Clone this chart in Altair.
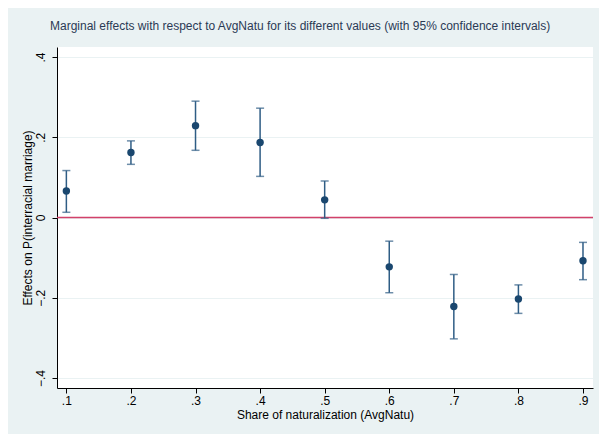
import altair as alt
import pandas as pd

avgnatu = [0.1, 0.2, 0.3, 0.4, 0.5, 0.6, 0.7, 0.8, 0.9]
effect = [0.066, 0.162, 0.229, 0.187, 0.044, -0.123, -0.222, -0.203, -0.108]
ci_low = [0.013, 0.1325, 0.1675, 0.1025, -0.002, -0.1875, -0.3025, -0.239, -0.155]
ci_high = [0.117, 0.191, 0.290, 0.2725, 0.091, -0.059, -0.142, -0.168, -0.062]
x_ticks = [0.1, 0.2, 0.3, 0.4, 0.5, 0.6, 0.7, 0.8, 0.9]
y_ticks = [-0.4, -0.2, 0.0, 0.2, 0.4]

df = pd.DataFrame({"x": avgnatu, "y": effect, "lo": ci_low, "hi": ci_high})
zero = pd.DataFrame({"y": [0.0]})

FONT = "Liberation Sans"
NAVY = "#1a476f"
BAR = "#2f5d85"

xscale = alt.Scale(domain=[0.0855, 0.9155], nice=False, zero=False)
yscale = alt.Scale(domain=[-0.425, 0.425], nice=False, zero=False)

x_enc = alt.X(
    "x:Q", scale=xscale,
    axis=alt.Axis(
        values=x_ticks, title="Share of naturalization (AvgNatu)",
        labelExpr="replace(format(datum.value, '.1f'), '0.', '.')",
        grid=False, domainColor="#000000", tickColor="#000000",
        tickSize=5, labelPadding=2, titlePadding=3,
    ),
)
y_enc = alt.Y(
    "y:Q", scale=yscale,
    axis=alt.Axis(
        values=y_ticks, title="Effects on P(interracial marriage)",
        labelExpr="datum.value == 0 ? '0' : replace(format(datum.value, '.1f'), '0.', '.')",
        labelAngle=270, labelAlign="center", labelBaseline="bottom",
        grid=True, gridColor="#eaf2f3", gridWidth=1.2,
        domainColor="#000000", tickColor="#000000", tickSize=5,
        labelPadding=5, titleX=-23, titleY=170.5,
    ),
)

base = alt.Chart(df)

grid_layer = alt.Chart(df).mark_point(opacity=0).encode(x=x_enc, y=y_enc)

zero_line = alt.Chart(zero).mark_rule(color="#d2416a", strokeWidth=1.6).encode(
    y=alt.Y("y:Q", scale=yscale)
)

bars = base.mark_rule(color=BAR, strokeWidth=1.5).encode(
    x=alt.X("x:Q", scale=xscale), y=alt.Y("lo:Q", scale=yscale), y2="hi:Q"
)
cap_lo = base.mark_tick(color=BAR, thickness=1.5, size=8, orient="horizontal").encode(
    x=alt.X("x:Q", scale=xscale), y=alt.Y("lo:Q", scale=yscale)
)
cap_hi = base.mark_tick(color=BAR, thickness=1.5, size=8, orient="horizontal").encode(
    x=alt.X("x:Q", scale=xscale), y=alt.Y("hi:Q", scale=yscale)
)
points = base.mark_circle(color=NAVY, size=55, opacity=1).encode(
    x=alt.X("x:Q", scale=xscale), y=alt.Y("y:Q", scale=yscale)
)

chart = alt.layer(grid_layer, zero_line, bars, cap_lo, cap_hi, points).properties(
    width=536,
    height=341,
    autosize=alt.AutoSizeParams(type="none"),
    padding={"left": 49, "top": 39, "right": 6, "bottom": 46},
    title=alt.TitleParams(
        "Marginal effects with respect to AvgNatu for its different values (with 95% confidence intervals)",
        anchor="start", frame="group", fontSize=12, fontWeight="normal",
        font=FONT, color="#2b3a55", offset=14, dx=-7,
    ),
).configure(
    background="#eaf2f3",
).configure_view(
    fill="#ffffff", stroke=None,
).configure_axis(
    labelFont=FONT, titleFont=FONT, labelFontSize=12, titleFontSize=12,
    labelColor="#000000", titleColor="#000000", titleFontWeight="normal",
)

chart.save("out.html", embed_options={"renderer": "svg", "actions": False})
